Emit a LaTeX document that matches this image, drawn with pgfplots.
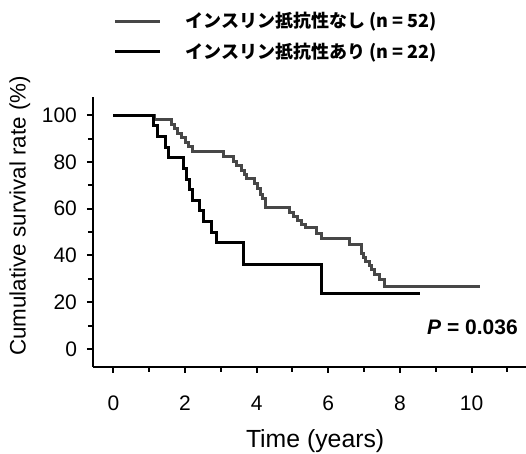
\documentclass[border=0pt]{standalone}
\usepackage{fontspec}
\setmainfont{Liberation Sans}
\newfontfamily\jp{Noto Sans CJK JP}
\usepackage{pgfplots}
\pgfplotsset{compat=1.18}

% Kaplan-Meier steps
\pgfplotstableread{
t s
0 100
1.16 98.1
1.63 96.2
1.70 94.2
1.78 92.3
1.90 90.4
2.00 88.5
2.10 86.5
2.22 84.6
3.07 82.5
3.35 80.3
3.45 78.5
3.58 76.4
3.65 74.5
3.72 73.0
3.95 71.0
4.02 68.5
4.10 66.2
4.16 64.3
4.24 60.5
4.93 58.4
5.02 56.6
5.14 55.0
5.25 53.4
5.37 51.8
5.67 49.6
5.80 47.4
6.60 44.5
6.93 41.0
6.98 39.2
7.05 37.4
7.15 35.8
7.21 34.2
7.30 31.8
7.44 29.6
7.58 26.8
10.24 26.8
}\noir

\pgfplotstableread{
t s
0 100
1.11 95.5
1.22 90.9
1.46 86.4
1.55 81.8
1.95 77.3
2.04 72.7
2.13 68.2
2.20 63.6
2.41 59.1
2.52 54.5
2.75 50.0
2.89 45.5
3.63 36.0
5.82 23.9
8.56 23.9
}\ari

\begin{document}
\begin{tikzpicture}
\begin{axis}[
  scale only axis, width=216.5pt, height=135pt,
  xmin=-0.57, xmax=11.52, ymin=-7.7, ymax=107.8,
  axis x line*=bottom, axis y line*=left,
  axis line style={line width=1.1pt},
  tick align=outside, major tick length=3pt, minor tick length=2.5pt,
  every tick/.style={black, line width=1pt},
  xtick={0,2,...,10}, minor xtick={1,3,...,11},
  ytick={0,20,...,100}, minor ytick={10,30,...,90},
  /pgf/number format/assume math mode=true,
  ticklabel style={font=\fontsize{10.5}{12}\selectfont},
  xticklabel style={yshift=-7.8pt},
  yticklabel style={xshift=-1.5pt},
  xlabel={Time (years)},
  ylabel={Cumulative survival rate (\%)},
  xlabel style={font=\fontsize{12.4}{14}\selectfont, at={(axis description cs:0.513,-0.275)}, anchor=center},
  ylabel style={font=\fontsize{11.2}{13}\selectfont, at={(axis description cs:-0.169,0.56)}, anchor=center},
  legend image code/.code={\draw[#1] (0pt,0pt) -- (22.5pt,0pt);},
  legend style={draw=none, fill=none, at={(axis description cs:0.047,1.33)}, anchor=north west,
    font=\jp\bfseries\fontsize{9}{10}\selectfont, row sep=2pt, inner sep=0pt,
    /tikz/every odd column/.append style={column sep=10pt}},
  legend cell align=left,
]
\addplot[const plot, black!72, line width=1.5pt] table[x=t, y=s] {\noir};
\addlegendentry{インスリン抵抗性なし (n = 52)}
\addplot[const plot, black, line width=1.5pt] table[x=t, y=s] {\ari};
\addlegendentry{インスリン抵抗性あり (n = 22)}
\node[anchor=east, inner sep=0pt, font=\bfseries\fontsize{10.5}{12}\selectfont] at (axis cs:11.3,9.5) {\textit{P} = 0.036};
\end{axis}
\pgfresetboundingbox
\path[use as bounding box] ([shift={(-46.5pt,-43.5pt)}]current axis.south west) rectangle ([shift={(0pt,48.5pt)}]current axis.north east);
\end{tikzpicture}
\end{document}
